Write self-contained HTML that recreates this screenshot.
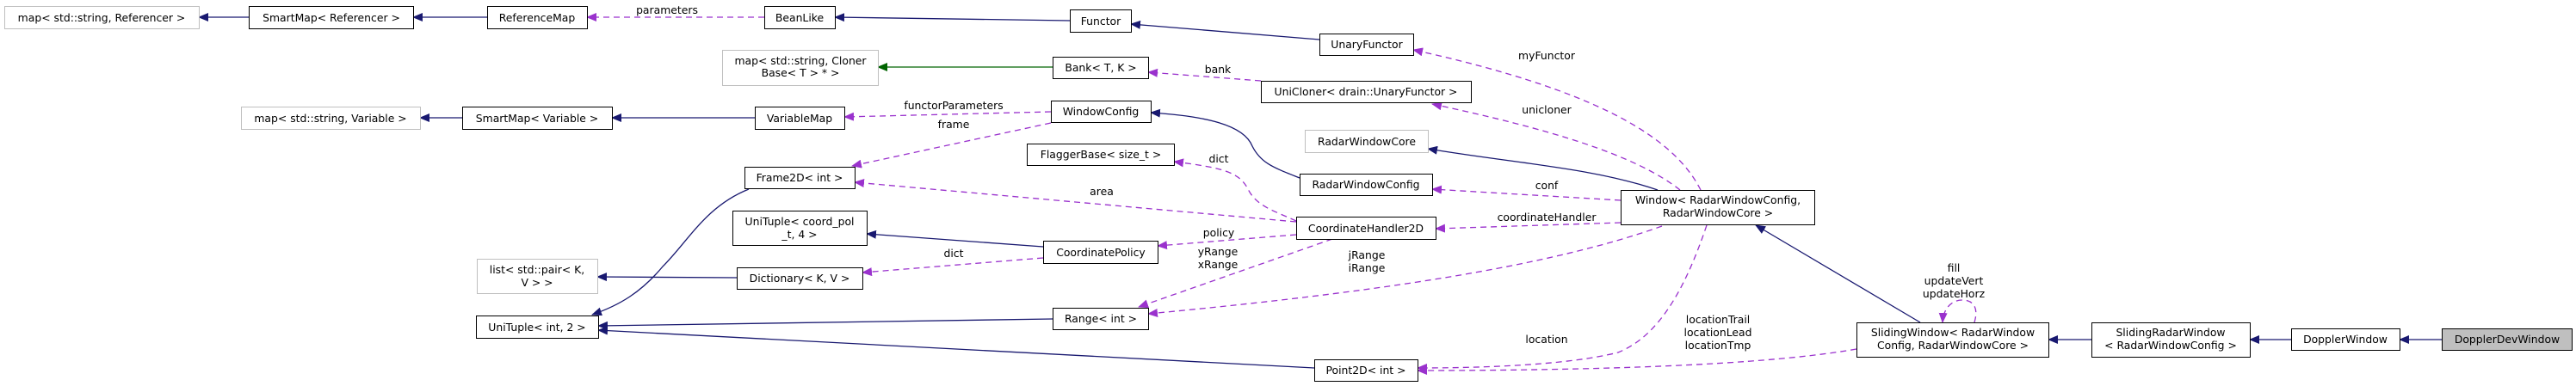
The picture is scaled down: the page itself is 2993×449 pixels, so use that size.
<!DOCTYPE html>
<html><head><meta charset="utf-8"><style>
html,body{margin:0;padding:0;background:#fff;}
svg{display:block;font-family:"DejaVu Sans","Liberation Sans",sans-serif;font-size:12.4px;}
</style></head><body>
<svg width="2993" height="449" viewBox="0 0 2993 449" xmlns="http://www.w3.org/2000/svg">
<defs>
<marker id="b" markerWidth="12" markerHeight="10" refX="11" refY="5" orient="auto" markerUnits="userSpaceOnUse"><path d="M0,0 L12,5 L0,10 z" fill="#191970"/></marker>
<marker id="p" markerWidth="12" markerHeight="10" refX="11" refY="5" orient="auto" markerUnits="userSpaceOnUse"><path d="M0,0 L12,5 L0,10 z" fill="#9a32cd"/></marker>
<marker id="g" markerWidth="12" markerHeight="10" refX="11" refY="5" orient="auto" markerUnits="userSpaceOnUse"><path d="M0,0 L12,5 L0,10 z" fill="#006400"/></marker>
</defs>
<g fill="none" stroke-width="1.3">
<g stroke="#191970" marker-end="url(#b)">
<path d="M289,20 L231,20"/>
<path d="M566,20 L480,20"/>
<path d="M1243,24 L970,20"/>
<path d="M1533,46 L1314,28"/>
<path d="M537,137 L488,137"/>
<path d="M877,137 L711,137"/>
<path d="M1510,207 C1480,195 1465,190 1455,170 C1445,145 1400,135 1337,131"/>
<path d="M1212,287 L1007,272"/>
<path d="M856,323 L694,322"/>
<path d="M870,220 C820,240 800,280 770,310 C745,340 720,355 688,366"/>
<path d="M1223,371 L695,379"/>
<path d="M1527,428 L695,384"/>
<path d="M1926,221 C1850,195 1760,190 1659,173"/>
<path d="M2231,375 L2040,262"/>
<path d="M2430,395 L2380,395"/>
<path d="M2662,395 L2614,395"/>
<path d="M2837,395 L2788,395"/>
</g>
<path stroke="#006400" marker-end="url(#g)" d="M1223,78 L1020,78"/>
<g stroke="#9a32cd" stroke-dasharray="7,5" marker-end="url(#p)">
<path d="M888,20 L682,20"/>
<path d="M1465,94 L1334,84"/>
<path d="M1221,130 L981,136"/>
<path d="M1221,143 L990,193"/>
<path d="M1506,257 C1480,245 1460,240 1450,220 C1440,200 1420,195 1364,188"/>
<path d="M1506,258 L993,212"/>
<path d="M1506,273 L1345,286"/>
<path d="M1548,278 L1323,357"/>
<path d="M1212,300 L1002,317"/>
<path d="M1976,221 C1950,170 1880,110 1642,58"/>
<path d="M1952,221 C1900,180 1800,150 1664,121"/>
<path d="M1883,233 L1664,220"/>
<path d="M1883,259 L1668,266"/>
<path d="M1931,263 C1800,310 1600,340 1334,365"/>
<path d="M1983,262 C1960,330 1930,390 1880,410 C1820,425 1720,428 1647,428"/>
<path d="M2157,406 C2050,425 1850,431 1647,431"/>
<path d="M2294,375 C2300,355 2290,349 2280,349 C2268,349 2258,358 2257,375"/>
</g>
</g>
<g stroke-width="1">
<g fill="#fff" stroke="#bfbfbf">
<rect x="5.5" y="7.5" width="226" height="26"/>
<rect x="280.5" y="124.5" width="208" height="26"/>
<rect x="839.5" y="58.5" width="181" height="41"/>
<rect x="554.5" y="301.5" width="140" height="40"/>
<rect x="1516.5" y="151.5" width="143" height="26"/>
</g>
<g fill="#fff" stroke="#000">
<rect x="289.5" y="7.5" width="191" height="26"/>
<rect x="566.5" y="7.5" width="116" height="26"/>
<rect x="537.5" y="124.5" width="174" height="26"/>
<rect x="553.5" y="367.5" width="142" height="26"/>
<rect x="888.5" y="7.5" width="82" height="26"/>
<rect x="1243.5" y="11.5" width="71" height="26"/>
<rect x="1223.5" y="66.5" width="111" height="25"/>
<rect x="877.5" y="124.5" width="104" height="26"/>
<rect x="1221.5" y="117.5" width="116" height="25"/>
<rect x="1193.5" y="167.5" width="171" height="25"/>
<rect x="865.5" y="194.5" width="128" height="25"/>
<rect x="851.5" y="245.5" width="156" height="40"/>
<rect x="1212.5" y="280.5" width="133" height="26"/>
<rect x="856.5" y="311.5" width="146" height="25"/>
<rect x="1223.5" y="358.5" width="111" height="25"/>
<rect x="1533.5" y="39.5" width="109" height="25"/>
<rect x="1465.5" y="94.5" width="244" height="25"/>
<rect x="1510.5" y="202.5" width="154" height="25"/>
<rect x="1506.5" y="252.5" width="162" height="26"/>
<rect x="1883.5" y="221.5" width="225" height="40"/>
<rect x="1527.5" y="418.5" width="120" height="25"/>
<rect x="2157.5" y="375.5" width="223" height="40"/>
<rect x="2430.5" y="375.5" width="184" height="40"/>
<rect x="2662.5" y="382.5" width="126" height="25"/>
</g>
<rect x="2837.5" y="382.5" width="151" height="25" fill="#bfbfbf" stroke="#000"/>
</g>
<g fill="#000" text-anchor="middle">
<text x="118" y="25">map&lt; std::string, Referencer &gt;</text>
<text x="385" y="25">SmartMap&lt; Referencer &gt;</text>
<text x="624" y="25">ReferenceMap</text>
<text x="384" y="142">map&lt; std::string, Variable &gt;</text>
<text x="624" y="142">SmartMap&lt; Variable &gt;</text>
<text x="624" y="318">list&lt; std::pair&lt; K,</text>
<text x="624" y="333">V &gt; &gt;</text>
<text x="624" y="385">UniTuple&lt; int, 2 &gt;</text>
<text x="929" y="25">BeanLike</text>
<text x="1279" y="29">Functor</text>
<text x="930" y="75">map&lt; std::string, Cloner</text>
<text x="930" y="89">Base&lt; T &gt; * &gt;</text>
<text x="1279" y="83">Bank&lt; T, K &gt;</text>
<text x="929" y="142">VariableMap</text>
<text x="1279" y="134">WindowConfig</text>
<text x="1279" y="184">FlaggerBase&lt; size_t &gt;</text>
<text x="929" y="211">Frame2D&lt; int &gt;</text>
<text x="929" y="262">UniTuple&lt; coord_pol</text>
<text x="929" y="277">_t, 4 &gt;</text>
<text x="1279" y="298">CoordinatePolicy</text>
<text x="929" y="328">Dictionary&lt; K, V &gt;</text>
<text x="1279" y="375">Range&lt; int &gt;</text>
<text x="1588" y="56">UnaryFunctor</text>
<text x="1587" y="111">UniCloner&lt; drain::UnaryFunctor &gt;</text>
<text x="1588" y="169">RadarWindowCore</text>
<text x="1587" y="219">RadarWindowConfig</text>
<text x="1587" y="270">CoordinateHandler2D</text>
<text x="1996" y="237">Window&lt; RadarWindowConfig,</text>
<text x="1996" y="252">RadarWindowCore &gt;</text>
<text x="1587" y="435">Point2D&lt; int &gt;</text>
<text x="2269" y="391">SlidingWindow&lt; RadarWindow</text>
<text x="2269" y="406">Config, RadarWindowCore &gt;</text>
<text x="2522" y="391">SlidingRadarWindow</text>
<text x="2522" y="406">&lt; RadarWindowConfig &gt;</text>
<text x="2725" y="399">DopplerWindow</text>
<text x="2913" y="399">DopplerDevWindow</text>
</g>
<g fill="#000" text-anchor="middle">
<text x="775" y="16">parameters</text>
<text x="1415" y="85">bank</text>
<text x="1108" y="127">functorParameters</text>
<text x="1108" y="149">frame</text>
<text x="1416" y="189">dict</text>
<text x="1280" y="227">area</text>
<text x="1416" y="275">policy</text>
<text x="1415" y="297">yRange</text>
<text x="1415" y="312">xRange</text>
<text x="1108" y="299">dict</text>
<text x="1797" y="69">myFunctor</text>
<text x="1797" y="132">unicloner</text>
<text x="1797" y="220">conf</text>
<text x="1797" y="257">coordinateHandler</text>
<text x="1588" y="301">jRange</text>
<text x="1588" y="316">iRange</text>
<text x="1797" y="399">location</text>
<text x="1996" y="376">locationTrail</text>
<text x="1996" y="391">locationLead</text>
<text x="1996" y="406">locationTmp</text>
<text x="2270" y="316">fill</text>
<text x="2270" y="331">updateVert</text>
<text x="2270" y="346">updateHorz</text>
</g>
</svg>
</body></html>
